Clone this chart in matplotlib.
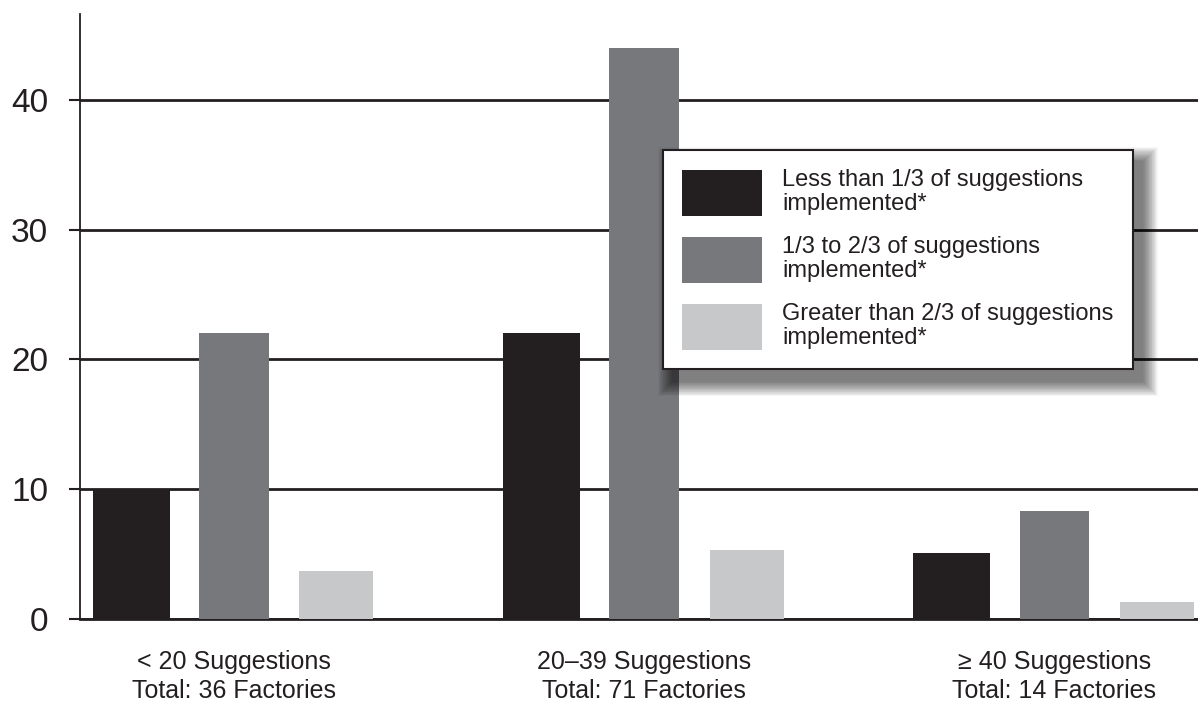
import matplotlib
matplotlib.use('Agg')
import matplotlib.pyplot as plt
from matplotlib.patches import Rectangle
import numpy as np

plt.rcParams['font.family'] = ['Liberation Sans', 'DejaVu Sans']

groups = ['< 20 Suggestions\nTotal: 36 Factories',
          '20\u201339 Suggestions\nTotal: 71 Factories',
          '\u2265 40 Suggestions\nTotal: 14 Factories']
series = ['Less than 1/3 of suggestions\nimplemented*',
          '1/3 to 2/3 of suggestions\nimplemented*',
          'Greater than 2/3 of suggestions\nimplemented*']
low = [10, 22, 5.1]
mid = [22, 44, 8.3]
high = [3.7, 5.3, 1.3]
yticks = [0, 10, 20, 30, 40]

colors = ['#231f20', '#77787b', '#c7c8ca']
widths = [0.75, 0.68, 0.72]
ink = '#231f20'

fig = plt.figure(figsize=(11.98, 7.03), dpi=100)
ax = fig.add_axes([80 / 1198, 84 / 703, 1 - 80 / 1198, 605 / 703])

base = np.arange(len(groups)) * 4
for i, vals in enumerate([low, mid, high]):
    ax.bar(base + i, vals, width=widths[i], color=colors[i], label=series[i], zorder=3)

ax.set_xlim(-0.5, 10.4)
ax.set_ylim(0, 46.6)
ax.set_yticks(yticks)
ax.yaxis.grid(True, color=ink, linewidth=2, zorder=1)
ax.set_axisbelow(True)
ax.tick_params(axis='y', length=8, width=1.5, color=ink, pad=15, labelsize=24, labelcolor=ink)
ax.set_xticks(base + 1)
ax.set_xticklabels(groups, fontsize=18, color=ink, linespacing=1.3)
ax.tick_params(axis='x', length=0, pad=22)

for s in ['top', 'right']:
    ax.spines[s].set_visible(False)
ax.spines['left'].set_color(ink)
ax.spines['left'].set_linewidth(1.3)
ax.spines['bottom'].set_color(ink)
ax.spines['bottom'].set_linewidth(2)

leg = ax.legend(loc='upper left', bbox_to_anchor=(663 / 1198, 1 - 150 / 703),
                bbox_transform=fig.transFigure, fontsize=17, handlelength=3.4,
                handleheight=2.6, handletextpad=0.85, labelspacing=0.85,
                borderpad=0.8, borderaxespad=0, fancybox=False, framealpha=1,
                edgecolor=ink)
leg.get_frame().set_linewidth(1.5)
leg.set_zorder(10)
for t in leg.get_texts():
    t.set_color(ink)
    t.set_linespacing(1.1)

# soft blurred shadow behind the legend box
fig.canvas.draw()
bb = leg.get_window_extent().transformed(fig.transFigure.inverted())
n = 20
for k in range(n):
    grow = (n - k) * 1.5
    r = Rectangle((bb.x0 + (10 - grow * 0.5) / 1198, bb.y0 - (12 + grow * 0.5) / 703),
                  bb.width + grow / 1198, bb.height + grow / 703,
                  transform=fig.transFigure, facecolor='black', alpha=0.03,
                  edgecolor='none', zorder=9)
    ax.add_artist(r)

fig.savefig('out.png', dpi=100)
